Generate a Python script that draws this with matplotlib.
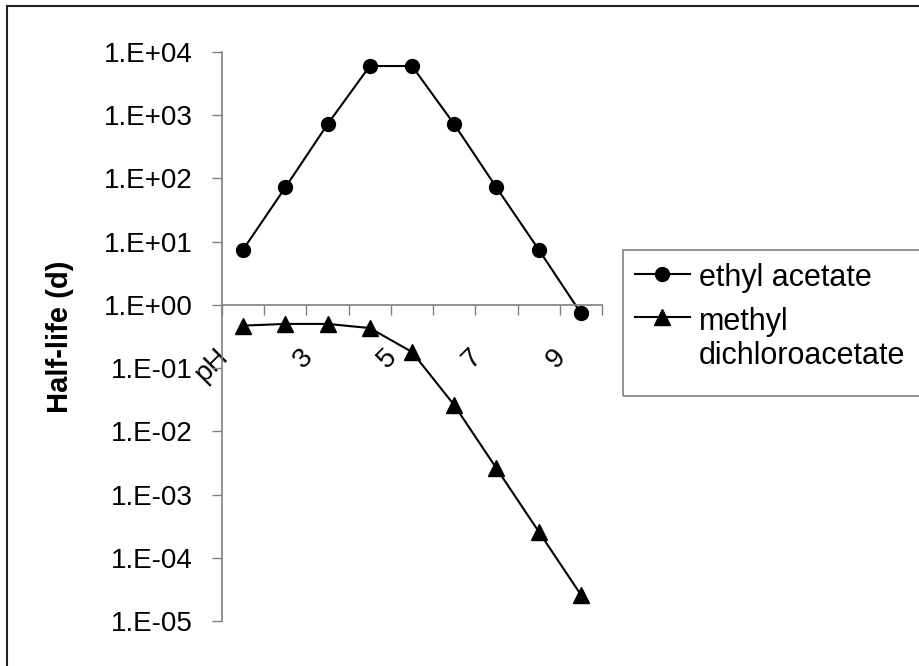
import numpy as np
import matplotlib
matplotlib.use("Agg")
import matplotlib.pyplot as plt
import matplotlib.ticker as mticker
from matplotlib.patches import Rectangle
from matplotlib.transforms import ScaledTranslation

plt.rcParams['font.family'] = ['Liberation Sans', 'DejaVu Sans']

# data
categories = ["pH", "2", "3", "4", "5", "6", "7", "8", "9"]
shown_labels = ["pH", "3", "5", "7", "9"]
ethyl_acetate = [7.5, 72, 720, 6000, 6000, 720, 72, 7.5, 0.74]
methyl_dichloroacetate = [0.47, 0.50, 0.50, 0.43, 0.18, 0.026, 0.0026, 0.00026, 0.000026]
y_ticks = [1e-5, 1e-4, 1e-3, 1e-2, 1e-1, 1e0, 1e1, 1e2, 1e3, 1e4]

W, H = 920, 666
grey = '#808080'

fig = plt.figure(figsize=(W / 100, H / 100), dpi=100)
ax = fig.add_axes([222 / W, 1 - 621 / H, 380 / W, 569 / H])

x = np.arange(1, len(categories) + 1)
ax.plot(x, ethyl_acetate, '-o', color='black', lw=1.5, ms=10,
        label='ethyl acetate', clip_on=False)
ax.plot(x, methyl_dichloroacetate, '-^', color='black', lw=1.5, ms=11,
        label='methyl\ndichloroacetate', clip_on=False)

ax.set_yscale('log')
ax.set_ylim(1e-5, 1e4)
ax.set_xlim(0.5, len(categories) + 0.5)

# axes: x axis crosses at 1
ax.spines['top'].set_visible(False)
ax.spines['right'].set_visible(False)
ax.spines['bottom'].set_position(('data', 1))
for s in ('left', 'bottom'):
    ax.spines[s].set_color(grey)
    ax.spines[s].set_linewidth(1.2)

ax.set_yticks(y_ticks)
ax.yaxis.set_minor_locator(mticker.NullLocator())
ax.yaxis.set_major_formatter(mticker.FuncFormatter(
    lambda v, p: "1.E%+03d" % int(round(np.log10(v)))))
ax.tick_params(axis='y', direction='out', length=7.2, width=1, color=grey,
               pad=14, labelsize=20)

# category boundaries as tick marks, labels on every other category
ax.set_xticks(np.arange(0.5, len(categories) + 1, 1.0))
ax.xaxis.set_major_formatter(mticker.NullFormatter())
ax.set_xticks([x[categories.index(c)] for c in shown_labels], minor=True)
ax.set_xticklabels(shown_labels, minor=True)
ax.tick_params(axis='x', which='major', direction='out', length=7.2, width=1, color=grey)
ax.tick_params(axis='x', which='minor', length=0, pad=28, labelsize=20)
shift = ScaledTranslation(-28 / 100, 0, fig.dpi_scale_trans)
for lab in ax.get_xticklabels(minor=True):
    lab.set_rotation(45)
    lab.set_rotation_mode('anchor')
    lab.set_ha('right')
    lab.set_va('top')
    lab.set_transform(lab.get_transform() + shift)

ax.set_ylabel('Half-life (d)', fontsize=21, fontweight='bold')
ax.yaxis.set_label_coords((74 - 222) / 380, 0.5)

# legend
leg = fig.legend(loc='upper left', bbox_to_anchor=(635 / W, 1 - 263 / H), frameon=False,
                 fontsize=22, handlelength=1.8, handletextpad=0.3, labelspacing=0.45,
                 borderpad=0, borderaxespad=0)
# put the handle level with the first line of a two-line label
for row in leg._legend_handle_box.get_children()[0].get_children():
    row.align = 'top'
fig.add_artist(Rectangle((623 / W, 1 - 396 / H), 400 / W, 146 / H,
                         transform=fig.transFigure, fill=False, ec=grey, lw=1.2))

# chart area border (runs off the right and bottom edges)
fig.add_artist(Rectangle((7 / W, -0.1), 1.2, 1.1 - 6 / H, transform=fig.transFigure,
                         fill=False, ec='#222222', lw=1.5))

fig.savefig('out.png', dpi=100)
